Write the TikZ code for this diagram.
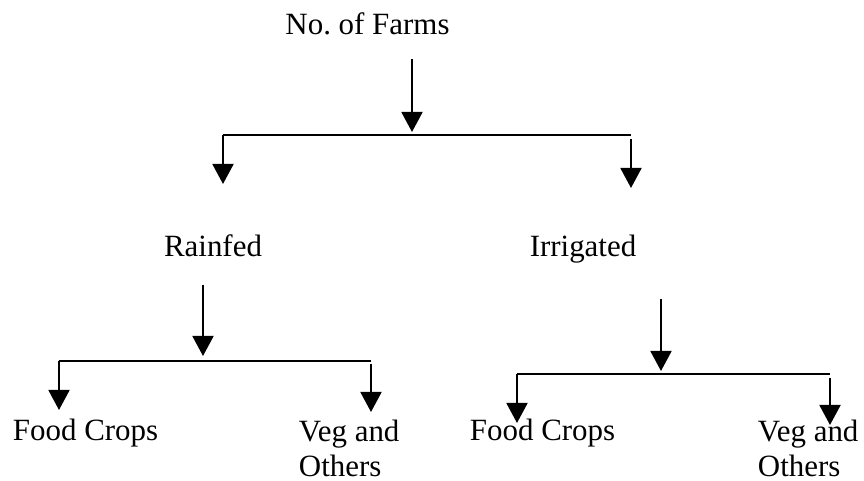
\documentclass[tikz,border=0pt]{standalone}
\usepackage{fontspec}
\setmainfont{Liberation Serif}
\usetikzlibrary{arrows.meta}

\begin{document}
\begin{tikzpicture}[
    txt/.style={inner sep=0pt, font=\fontsize{17.6}{20.4}\selectfont},
    darrow/.style={-{Triangle[width=0.42cm,length=0.4cm]}},
    line width=1.1pt]
    \useasboundingbox (0,0) rectangle (17.28,9.62);
    \node [txt, anchor=base] (farms) at (7.35, 8.92) {No.\ of Farms};
    \node [txt, anchor=base] (rainfed) at (4.26, 4.48) {Rainfed};
    \node [txt, anchor=base] (irrigated) at (11.66, 4.48) {Irrigated};
    \node [txt, anchor=base west] (rfood) at (0.24, 0.80) {Food Crops};
    \node [txt, anchor=base west, align=left] (rveg) at (5.96, 0.08) {Veg and\\Others};
    \node [txt, anchor=base west] (ifood) at (9.38, 0.80) {Food Crops};
    \node [txt, anchor=base west, align=left] (iveg) at (15.14, 0.08) {Veg and\\Others};

    \coordinate (topA) at (8.24, 8.44);
    \coordinate (topB) at (8.24, 6.98);
    \coordinate (topL) at (4.46, 6.92);
    \coordinate (topR) at (12.62, 6.92);
    \coordinate (topRA) at (12.62, 6.84);
    \coordinate (rainA) at (4.46, 5.94);
    \coordinate (irrA) at (12.62, 5.86);
    \draw [darrow] (topA) -- (topB);
    \draw (topL) -- (topR);
    \draw [darrow] (topL) -- (rainA);
    \draw [darrow] (topRA) -- (irrA);

    \coordinate (rainB) at (4.06, 3.92);
    \coordinate (rainC) at (4.06, 2.50);
    \coordinate (rainL) at (1.18, 2.40);
    \coordinate (rainR) at (7.42, 2.40);
    \coordinate (rainRA) at (7.42, 2.34);
    \coordinate (rfoodA) at (1.18, 1.42);
    \coordinate (rvegA) at (7.42, 1.38);
    \draw [darrow] (rainB) -- (rainC);
    \draw (rainL) -- (rainR);
    \draw [darrow] (rainL) -- (rfoodA);
    \draw [darrow] (rainRA) -- (rvegA);

    \coordinate (irrB) at (13.22, 3.64);
    \coordinate (irrC) at (13.22, 2.20);
    \coordinate (irrL) at (10.34, 2.14);
    \coordinate (irrR) at (16.60, 2.14);
    \coordinate (irrRA) at (16.60, 2.06);
    \coordinate (ifoodA) at (10.34, 1.16);
    \coordinate (ivegA) at (16.60, 1.12);
    \draw [darrow] (irrB) -- (irrC);
    \draw (irrL) -- (irrR);
    \draw [darrow] (irrL) -- (ifoodA);
    \draw [darrow] (irrRA) -- (ivegA);
\end{tikzpicture}
\end{document}
